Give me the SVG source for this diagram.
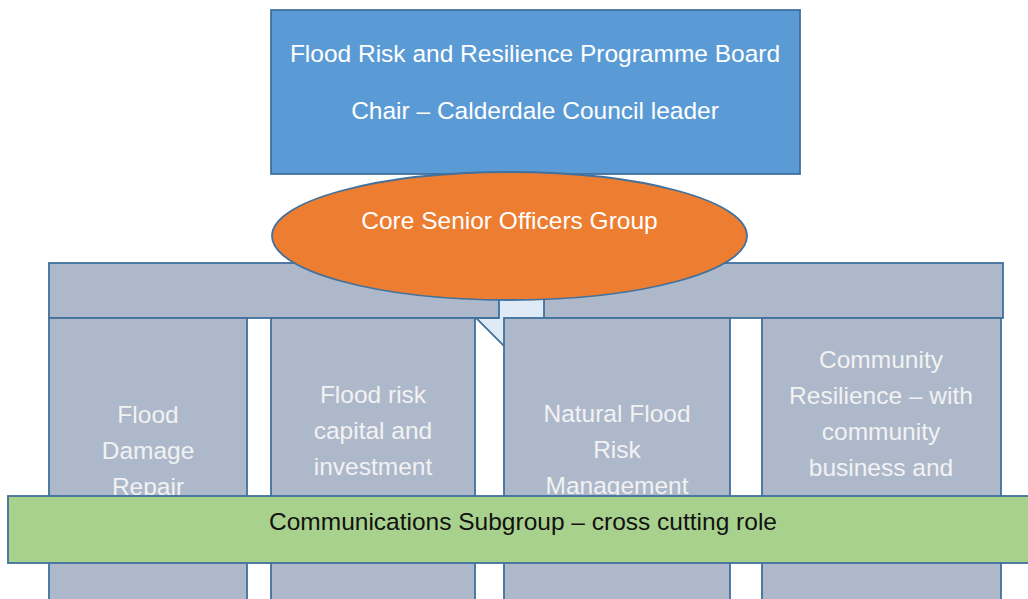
<svg xmlns="http://www.w3.org/2000/svg" width="1028" height="599" viewBox="0 0 1028 599">
  <style>
    .lbl { font-family: "Liberation Sans", Arial, sans-serif; font-size: 24.5px; text-anchor: middle; }
    .white { fill: #ffffff; }
    .pale { fill: #f2f2f2; }
    .dark { fill: #111111; }
    .edge { stroke: #41719c; stroke-width: 1.8; }
    .workstream { fill: #adb9ca; }
  </style>

  <rect width="1028" height="599" fill="#ffffff"/>

  <!-- wide band spanning the workstreams -->
  <g id="workstream-band">
    <rect class="workstream edge" x="49" y="263" width="954" height="55"/>
  </g>

  <!-- downward block arrow from the officers group -->
  <g id="connectors">
    <path class="edge" fill="#deebf7" d="M499 250 L544 250 L544 318 L568 318 L522 364 L476 318 L499 318 Z"/>
  </g>

  <!-- workstream columns -->
  <g id="col-damage">
    <rect class="workstream edge" x="49" y="318" width="198" height="300"/>
    <text class="lbl pale" x="148" y="423">Flood</text>
    <text class="lbl pale" x="148" y="459">Damage</text>
    <text class="lbl pale" x="148" y="495">Repair</text>
  </g>
  <g id="col-capital">
    <rect class="workstream edge" x="271" y="318" width="204" height="300"/>
    <text class="lbl pale" x="373" y="403">Flood risk</text>
    <text class="lbl pale" x="373" y="439">capital and</text>
    <text class="lbl pale" x="373" y="475">investment</text>
  </g>
  <g id="col-natural">
    <rect class="workstream edge" x="504" y="318" width="226" height="300"/>
    <text class="lbl pale" x="617" y="422">Natural Flood</text>
    <text class="lbl pale" x="617" y="458">Risk</text>
    <text class="lbl pale" x="617" y="494">Management</text>
  </g>
  <g id="col-community">
    <rect class="workstream edge" x="762" y="318" width="239" height="300"/>
    <text class="lbl pale" x="881" y="368">Community</text>
    <text class="lbl pale" x="881" y="404">Resilience – with</text>
    <text class="lbl pale" x="881" y="440">community</text>
    <text class="lbl pale" x="881" y="476">business and</text>
  </g>

  <!-- programme board -->
  <g id="board">
    <rect class="edge" fill="#5b9bd5" x="271" y="10" width="529" height="164"/>
    <text class="lbl white" x="535" y="62">Flood Risk and Resilience Programme Board</text>
    <text class="lbl white" x="535" y="119">Chair – Calderdale Council leader</text>
  </g>

  <!-- core officers group -->
  <g id="officers">
    <ellipse class="edge" fill="#ed7d31" cx="509.5" cy="236" rx="237.5" ry="64"/>
    <text class="lbl white" x="509.5" y="229">Core Senior Officers Group</text>
  </g>

  <!-- cross-cutting communications band -->
  <g id="communications">
    <rect class="edge" fill="#a9d18e" x="8" y="496" width="1040" height="67"/>
    <text class="lbl dark" x="523" y="530">Communications Subgroup – cross cutting role</text>
  </g>
</svg>
